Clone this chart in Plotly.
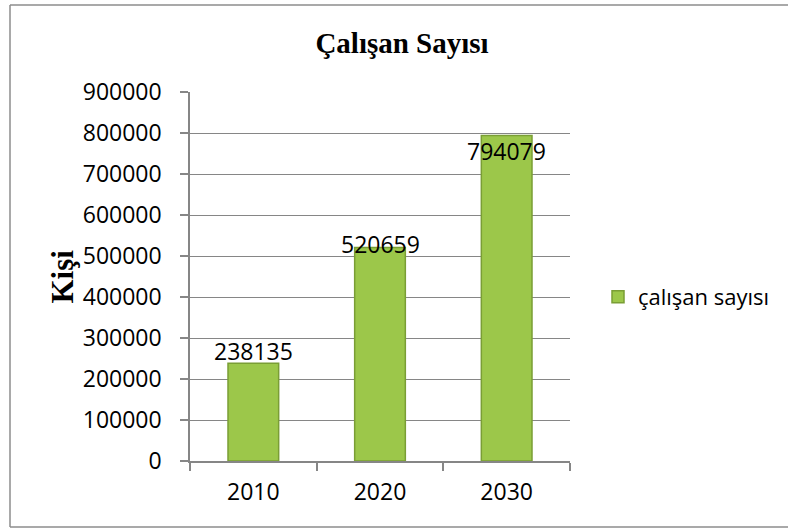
import plotly.graph_objects as go

categories = ["2010", "2020", "2030"]
values = [238135, 520659, 794079]
series_name = "çalışan sayısı"
title_text = "Çalışan Sayısı"
y_title = "Kişi"
y_ticks = [0, 100000, 200000, 300000, 400000, 500000, 600000, 700000, 800000, 900000]
label_shift = [12, 4, -16]  # pixel offsets of data labels (style)

W, H = 788, 529
L, R, T, B = 190, 218, 92, 68
pw, ph = W - L - R, H - T - B

def px_x(x):
    return (x - L) / pw

def px_y(y):
    return (H - B - y) / ph

fig = go.Figure()
fig.add_trace(go.Bar(
    x=categories, y=values, name=series_name,
    marker=dict(color="#9cc74a", line=dict(color="#7a9e35", width=1.5)),
    showlegend=True,
))

tick_font = dict(family="Open Sans, Lato, sans-serif", size=23, color="#000")

for i, (v, s) in enumerate(zip(values, label_shift)):
    fig.add_annotation(x=i, y=v, xref="x", yref="y", text=str(v), showarrow=False,
                       yanchor="middle", yshift=s, font=tick_font)

fig.add_annotation(xref="paper", yref="paper", x=px_x(62), y=0.5, text="<b>%s</b>" % y_title,
                   textangle=-90, showarrow=False, xanchor="center", yanchor="middle",
                   font=dict(family="Liberation Serif, Times New Roman, serif", size=31, color="#000"))

border = dict(color="#8c8c8c", width=1.5)
bx0, bx1, by0, by1 = px_x(10), px_x(800), px_y(527), px_y(5)
for (xa, ya, xb, yb) in [(bx0, by0, bx0, by1), (bx0, by1, bx1, by1), (bx0, by0, bx1, by0)]:
    fig.add_shape(type="line", xref="paper", yref="paper", x0=xa, y0=ya, x1=xb, y1=yb,
                  line=border, layer="below")

fig.update_layout(
    width=W, height=H,
    margin=dict(l=L, r=R, t=T, b=B),
    paper_bgcolor="white", plot_bgcolor="white",
    title=dict(text="<b>%s</b>" % title_text, x=402 / W, xref="container",
               y=1 - 43 / H, yanchor="middle", xanchor="center",
               font=dict(family="Liberation Serif, Times New Roman, serif", size=29, color="#000")),
    bargap=0.6,
    showlegend=True,
    legend=dict(x=px_x(598), y=px_y(297), xanchor="left", yanchor="middle",
                font=dict(family="Open Sans, Lato, sans-serif", size=22, color="#000"),
                bgcolor="rgba(0,0,0,0)", itemwidth=30),
    xaxis=dict(type="category", range=[-0.5, len(categories) - 0.5],
               showline=True, linecolor="#868686", linewidth=1.5, ticks="outside",
               ticklen=8, tickcolor="#868686", tickwidth=1.5, tickfont=tick_font,
               showgrid=False, ticklabelstandoff=10,
               tickson="boundaries"),
    yaxis=dict(range=[0, 900000], tickvals=y_ticks, ticktext=[str(t) for t in y_ticks],
               showline=True, linecolor="#868686", linewidth=1.5, ticks="outside",
               ticklen=8, tickcolor="#868686", tickwidth=1.5, tickfont=tick_font,
               showgrid=True, gridcolor="#868686", gridwidth=1.2, zeroline=False,
               ticklabelstandoff=14),
)

fig.write_html("out.html", config={"displayModeBar": False},
               post_script="document.body.style.margin='0';document.body.style.overflow='hidden';")
